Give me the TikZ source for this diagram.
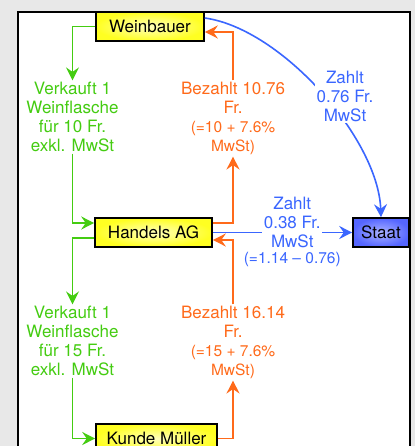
\documentclass[tikz,border=0pt]{standalone}
\usepackage{fontspec}
\setmainfont{TeX Gyre Heros}
\usepackage{xcolor}
\usepackage{tikz}
\usetikzlibrary{arrows.meta, positioning, shadows}
\definecolor{warenfarbe}{HTML}{44CC11}
\definecolor{geldfarbe}{HTML}{FF6A1A}
\definecolor{steuerfarbe}{HTML}{3A66FF}
\definecolor{gelbbox}{HTML}{FFFF22}
\definecolor{blaubox}{HTML}{5566FF}
\definecolor{rahmengrau}{HTML}{E8E8E8}
\newcommand{\klein}{\fontsize{15.5}{19}\selectfont}
\tikzset{
  akteur/.style={rectangle, draw=black, line width=1.6pt, inner color=gelbbox!30!white,
    outer color=gelbbox, drop shadow={shadow xshift=1.2pt, shadow yshift=-1.2pt, fill=black!40},
    font=\fontsize{17}{19}\selectfont, minimum height=29pt, inner sep=2pt},
  amt/.style={akteur, inner color=blaubox!50!white, outer color=blaubox},
  ware/.style={draw=warenfarbe, line width=1.6pt, -{Stealth[length=13pt, width=13pt, inset=4.5pt]}},
  geld/.style={ware, draw=geldfarbe},
  steuer/.style={ware, draw=steuerfarbe},
  warentext/.style={text=warenfarbe, font=\fontsize{17}{19}\selectfont, align=center, inner sep=1.5pt},
  geldtext/.style={warentext, text=geldfarbe},
  steuertext/.style={warentext, text=steuerfarbe, fill=white}
}

\begin{document}
\begin{tikzpicture}[x=1pt, y=-1pt]
  \useasboundingbox (0,0) rectangle (415,446);
  \fill[rahmengrau] (0,0) rectangle (415,446);
  \draw[line width=2pt, fill=white] (18,12) rectangle (410,470);

  % Beteiligte
  \node[akteur, minimum width=108pt] (weinbauer) at (150,26.5) {Weinbauer};
  \node[akteur, minimum width=117pt] (handels) at (153.5,232.5) {Handels AG};
  \node[amt, minimum width=56pt] (staat) at (381,232.5) {Staat};
  \node[akteur, minimum width=121pt] (kunde) at (156.5,438.5) {Kunde Müller};

  % Beschriftungen
  \node[warentext] (verkauf1) at (72.5,117) {Verkauft 1\\Weinflasche\\für 10 Fr.\\exkl. MwSt};
  \node[geldtext] (bezahlt1) at (233,118.5) {Bezahlt 10.76\\Fr.\\\klein(=10 + 7.6\%\\\klein MwSt)};
  \node[warentext] (verkauf2) at (72.5,341) {Verkauft 1\\Weinflasche\\für 15 Fr.\\exkl. MwSt};
  \node[geldtext] (bezahlt2) at (233,342.5) {Bezahlt 16.14\\Fr.\\\klein(=15 + 7.6\%\\\klein MwSt)};

  % Ware
  \draw[ware] (weinbauer.west) -| (verkauf1.north);
  \draw[ware] (verkauf1.south) |- ([yshift=9.5pt]handels.west);
  \draw[ware] ([yshift=-5.5pt]handels.west) -| (verkauf2.north);
  \draw[ware] (verkauf2.south) |- (kunde.west);

  % Geld
  \draw[geld] (kunde.east) -| (bezahlt2.south);
  \draw[geld] (bezahlt2.north) |- ([yshift=-7.5pt]handels.east);
  \draw[geld] ([yshift=9.5pt]handels.east) -| (bezahlt1.south);
  \draw[geld] (bezahlt1.north) |- ([yshift=-5.5pt]weinbauer.east);

  % Steuer
  \draw[steuer] ([yshift=8.5pt]weinbauer.east) to[out=-8, in=92, looseness=0.75] (staat.north);
  \node[steuertext] (zahlt1) at (345,96) {Zahlt\\0.76 Fr.\\MwSt};
  \draw[steuer] (handels) -- node[steuertext, pos=0.57, yshift=10pt] (zahlt2) {Zahlt\\0.38 Fr.\\MwSt} (staat);
  \node[steuertext, fill=none, below=0pt of zahlt2] (differenz) {\klein(=1.14 – 0.76)};
\end{tikzpicture}
\end{document}
